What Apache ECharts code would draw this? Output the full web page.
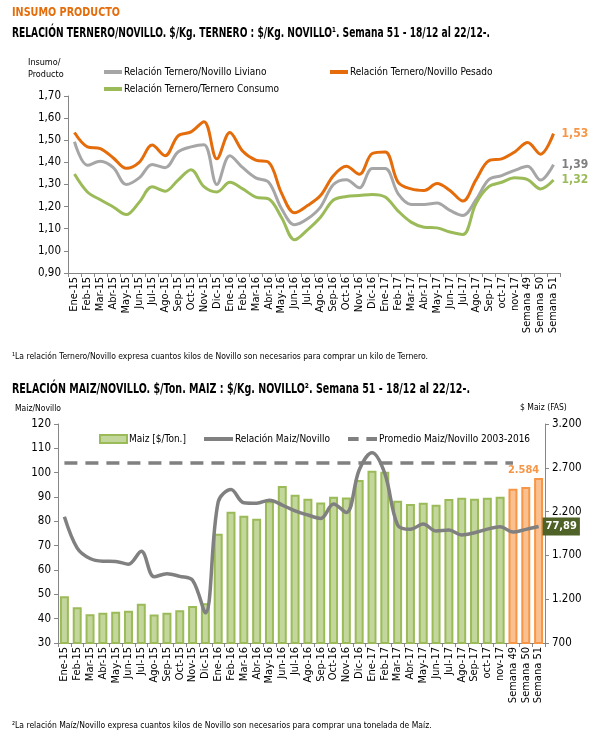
<!DOCTYPE html>
<html><head><meta charset="utf-8">
<script src="https://cdn.jsdelivr.net/npm/echarts@6/dist/echarts.min.js"></script>
<style>html,body{margin:0;padding:0;background:#fff}#c{width:605px;height:743px}</style>
</head><body><div id="c"></div>
<script>
const categories = ['Ene-15','Feb-15','Mar-15','Abr-15','May-15','Jun-15','Jul-15','Ago-15','Sep-15','Oct-15','Nov-15','Dic-15','Ene-16','Feb-16','Mar-16','Abr-16','May-16','Jun-16','Jul-16','Ago-16','Sep-16','Oct-16','Nov-16','Dic-16','Ene-17','Feb-17','Mar-17','Abr-17','May-17','Jun-17','Jul-17','Ago-17','Sep-17','oct-17','nov-17','Semana 49','Semana 50','Semana 51'];
const novilloPesado = [1.535,1.47,1.462,1.42,1.373,1.40,1.478,1.43,1.52,1.538,1.584,1.416,1.535,1.45,1.41,1.40,1.26,1.172,1.205,1.25,1.34,1.382,1.346,1.44,1.447,1.31,1.28,1.273,1.304,1.273,1.225,1.32,1.407,1.416,1.447,1.49,1.437,1.53];
const novilloLiviano = [1.493,1.387,1.405,1.376,1.30,1.33,1.39,1.376,1.447,1.47,1.48,1.30,1.43,1.376,1.33,1.31,1.19,1.118,1.145,1.198,1.30,1.322,1.285,1.372,1.372,1.258,1.21,1.21,1.216,1.183,1.16,1.23,1.322,1.34,1.364,1.382,1.32,1.39];
const terneroConsumo = [1.347,1.266,1.231,1.198,1.164,1.22,1.29,1.27,1.32,1.367,1.29,1.266,1.31,1.28,1.243,1.235,1.15,1.05,1.095,1.152,1.23,1.246,1.25,1.255,1.243,1.18,1.13,1.107,1.104,1.085,1.074,1.213,1.29,1.31,1.33,1.322,1.28,1.32];
const maizPrecio = [1233,1108,1028,1044,1056,1067,1147,1025,1044,1075,1122,1153,1947,2198,2153,2117,2319,2491,2392,2347,2305,2369,2362,2560,2667,2655,2324,2286,2301,2278,2343,2358,2347,2358,2369,2461,2480,2584];
const relacionMaiz = [81.9,69,64.7,63.6,63.5,62.4,67.7,57.2,58.5,57.4,55.8,42.4,88.0,93.1,87.6,87.4,88.7,86.7,84.3,82.6,81.2,87.1,83.6,101.1,108.2,99.7,78.5,76.7,78.9,76.0,76.4,74.4,75.3,76.8,77.8,75.6,76.7,77.89];
const promedioMaiz = [104,104,104,104,104,104,104,104,104,104,104,104,104,104,104,104,104,104,104,104,104,104,104,104,104,104,104,104,104,104,104,104,104,104,104,104,null,null];
const weeklyCount = 3;

const FONT = 'DejaVu Sans Condensed';
const comma = v => String(v).replace('.', ',');
const thousands = v => String(v).replace(/\B(?=(\d{3})+(?!\d))/g, '.');
const last = a => a.length - 1;

const mctx = document.createElement('canvas').getContext('2d');
function fitText(text, font, x, y, width, fill) {
  mctx.font = font;
  const w = mctx.measureText(text).width;
  return {type: 'text', x: x, y: y, scaleX: width / w, style: {text: text, font: font, fill: fill, textVerticalAlign: 'middle'}};
}

function endLabel(color) {
  return {show: true, distance: 8, color: color, fontWeight: 'bold', fontSize: 12, fontFamily: FONT, formatter: p => comma(Number(p.value).toFixed(2))};
}

const barData = maizPrecio.map((v, i) => {
  const weekly = i >= maizPrecio.length - weeklyCount;
  const item = {value: v};
  if (weekly) item.itemStyle = {color: '#FAC090', borderColor: '#F79646'};
  if (i === last(maizPrecio)) item.label = {show: true, position: 'top', offset: [-15, 3], color: '#F79646', fontWeight: 'bold', fontSize: 11, fontFamily: FONT, formatter: p => thousands(p.value)};
  return item;
});
const promData = promedioMaiz.map((v, i) => i === 0 ? {value: v, label: {show: true, position: 'top', offset: [7, -1], color: '#404040', fontWeight: 'bold', fontSize: 10, fontFamily: FONT, formatter: p => String(p.value)}} : v);

const axisLineStyle = {color: '#868686', width: 1};
const smallFont = '8.5px "' + FONT + '"';

const chart = echarts.init(document.getElementById('c'));
chart.setOption({
  animation: false,
  textStyle: {fontFamily: FONT},
  graphic: [
    fitText('INSUMO PRODUCTO', 'bold 13px "DejaVu Sans"', 12, 13, 108, '#E46C0A'),
    fitText('RELACIÓN TERNERO/NOVILLO. $/Kg. TERNERO : $/Kg. NOVILLO¹. Semana 51 - 18/12 al 22/12-.', 'bold 13.5px "DejaVu Sans"', 12, 33, 478, '#000'),
    {type: 'text', left: 28, top: 57, style: {text: 'Insumo/\nProducto', font: '9px "' + FONT + '"', fill: '#000', align: 'center', lineHeight: 12}},
    {type: 'text', left: 12, top: 352, style: {text: '¹La relación Ternero/Novillo expresa cuantos kilos de Novillo son necesarios para comprar un kilo de Ternero.', font: smallFont, fill: '#000'}},
    fitText('RELACIÓN MAIZ/NOVILLO. $/Ton. MAIZ : $/Kg. NOVILLO². Semana 51 - 18/12 al 22/12-.', 'bold 13.5px "DejaVu Sans"', 12, 389, 458, '#000'),
    {type: 'text', left: 15, top: 404, style: {text: 'Maiz/Novillo', font: smallFont, fill: '#000'}},
    {type: 'text', left: 520, top: 403, style: {text: '$ Maiz (FAS)', font: smallFont, fill: '#000'}},
    {type: 'text', left: 12, top: 721, style: {text: '²La relación Maíz/Novillo expresa cuantos kilos de Novillo son necesarios para comprar una tonelada de Maíz.', font: smallFont, fill: '#000'}}
  ],
  legend: [
    {left: 99, top: 62, itemWidth: 18, itemHeight: 4, icon: 'rect', data: ['Relación Ternero/Novillo Liviano'], textStyle: {fontSize: 10, fontFamily: FONT, color: '#000', padding: [0,0,0,-3]}},
    {left: 325, top: 62, itemWidth: 18, itemHeight: 4, icon: 'rect', data: ['Relación Ternero/Novillo Pesado'], textStyle: {fontSize: 10, fontFamily: FONT, color: '#000', padding: [0,0,0,-3]}},
    {left: 99, top: 79, itemWidth: 18, itemHeight: 4, icon: 'rect', data: ['Relación Ternero/Ternero Consumo'], textStyle: {fontSize: 10, fontFamily: FONT, color: '#000', padding: [0,0,0,-3]}},
    {left: 94, top: 429, itemWidth: 27, itemHeight: 8, data: [{name: 'Maiz [$/Ton.]', icon: 'rect'}], textStyle: {fontSize: 10, fontFamily: FONT, color: '#000', padding: [0,0,0,-3]}},
    {left: 199, top: 429, itemWidth: 29, itemHeight: 4, data: [{name: 'Relación Maiz/Novillo', icon: 'rect'}], textStyle: {fontSize: 10, fontFamily: FONT, color: '#000', padding: [0,0,0,-3]}},
    {left: 343, top: 429, itemWidth: 29, itemHeight: 4, data: [{name: 'Promedio Maiz/Novillo 2003-2016', icon: 'path://M0,0 L11,0 L11,4 L0,4 Z M19,0 L30,0 L30,4 L19,4 Z'}], textStyle: {fontSize: 10, fontFamily: FONT, color: '#000', padding: [0,0,0,-3]}}
  ],
  grid: [
    {left: 68, right: 45, top: 96, height: 177},
    {left: 58, right: 60, top: 424, height: 219}
  ],
  xAxis: [
    {type: 'category', gridIndex: 0, data: categories, boundaryGap: true,
     axisLine: {lineStyle: axisLineStyle}, axisTick: {show: true, lineStyle: axisLineStyle, length: 4},
     axisLabel: {rotate: 90, interval: 0, fontSize: 11, color: '#000', fontFamily: FONT, margin: 4}},
    {type: 'category', gridIndex: 1, data: categories, boundaryGap: true,
     axisLine: {lineStyle: axisLineStyle}, axisTick: {show: true, lineStyle: axisLineStyle, length: 4},
     axisLabel: {rotate: 90, interval: 0, fontSize: 11, color: '#000', fontFamily: FONT, margin: 4}}
  ],
  yAxis: [
    {type: 'value', gridIndex: 0, min: 0.9, max: 1.7, interval: 0.1,
     axisLine: {show: true, lineStyle: axisLineStyle}, axisTick: {show: true, lineStyle: axisLineStyle, length: 4},
     splitLine: {show: false}, axisLabel: {fontSize: 11.5, color: '#000', fontFamily: FONT, margin: 7, formatter: v => comma(v.toFixed(2))}},
    {type: 'value', gridIndex: 1, min: 30, max: 120, interval: 10, position: 'left',
     axisLine: {show: true, lineStyle: axisLineStyle}, axisTick: {show: true, lineStyle: axisLineStyle, length: 4},
     splitLine: {show: false}, axisLabel: {fontSize: 11.5, color: '#000', fontFamily: FONT, margin: 7}},
    {type: 'value', gridIndex: 1, min: 700, max: 3200, interval: 500, position: 'right',
     axisLine: {show: true, lineStyle: axisLineStyle}, axisTick: {show: true, lineStyle: axisLineStyle, length: 4},
     splitLine: {show: false}, axisLabel: {fontSize: 11.5, color: '#000', fontFamily: FONT, margin: 7, formatter: v => thousands(v)}}
  ],
  series: [
    {name: 'Relación Ternero/Novillo Liviano', type: 'line', xAxisIndex: 0, yAxisIndex: 0, data: novilloLiviano, smooth: 0.35, symbol: 'none', endLabel: endLabel('#7F7F7F'), lineStyle: {width: 3, color: '#A6A6A6'}, itemStyle: {color: '#A6A6A6'}},
    {name: 'Relación Ternero/Novillo Pesado', type: 'line', xAxisIndex: 0, yAxisIndex: 0, data: novilloPesado, smooth: 0.35, symbol: 'none', endLabel: endLabel('#F79646'), lineStyle: {width: 3, color: '#E46C0A'}, itemStyle: {color: '#E46C0A'}},
    {name: 'Relación Ternero/Ternero Consumo', type: 'line', xAxisIndex: 0, yAxisIndex: 0, data: terneroConsumo, smooth: 0.35, symbol: 'none', endLabel: endLabel('#9BBB59'), lineStyle: {width: 3, color: '#9BBB59'}, itemStyle: {color: '#9BBB59'}},
    {name: 'Maiz [$/Ton.]', type: 'bar', xAxisIndex: 1, yAxisIndex: 2, data: barData, barCategoryGap: '30%', itemStyle: {color: '#C3D69B', borderColor: '#9BBB59', borderWidth: 2}},
    {name: 'Relación Maiz/Novillo', type: 'line', xAxisIndex: 1, yAxisIndex: 1, data: relacionMaiz, smooth: 0.35, symbol: 'none', z: 5,
     endLabel: {show: true, distance: 4, color: '#fff', backgroundColor: '#4F6228', padding: [4, 3, 3, 3], fontWeight: 'bold', fontSize: 11, fontFamily: FONT, formatter: p => comma(p.value)},
     lineStyle: {width: 3.5, color: '#808080'}, itemStyle: {color: '#808080'}},
    {name: 'Promedio Maiz/Novillo 2003-2016', type: 'line', xAxisIndex: 1, yAxisIndex: 1, data: promData, symbol: 'none', showSymbol: true, z: 4, lineStyle: {width: 3.5, color: '#808080', type: [13, 8]}, itemStyle: {color: '#808080'}}
  ]
});
</script></body></html>
